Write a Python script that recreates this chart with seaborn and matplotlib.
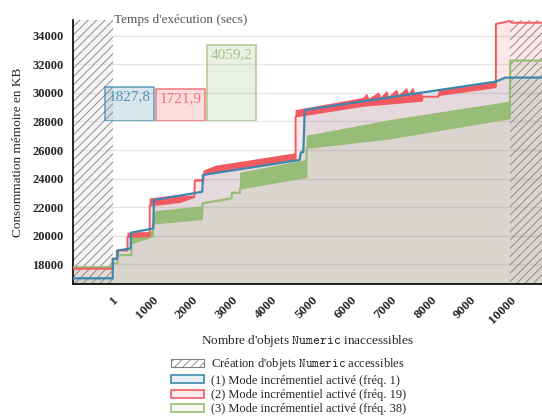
import numpy as np
import pandas as pd
import matplotlib
matplotlib.use("Agg")
import matplotlib.pyplot as plt
from matplotlib.patches import Patch
import seaborn as sns

# ---------------- data ----------------
# series (1) freq. 1 : step line
blue_x = [-1000, 0, 0, 110, 130, 450, 460, 1020, 1035, 2250, 2270, 4700, 4735, 4795, 4830, 9640, 9880, 10800]
blue_y = [17000, 17000, 18370, 18370, 18950, 19100, 20200, 20500, 22490, 23070, 24250, 25300, 25840, 25840, 28810, 30800, 31080, 31080]

# series (2) freq. 19 : noisy band (upper / lower envelopes)
red_hi_x = [-1000, 0, 0, 100, 100, 370, 370, 930, 930, 1500, 1700, 2050, 2065, 2280, 2280, 2600, 4550, 4600,
            4600, 6300, 6400, 6450, 6700, 6750, 6900, 6950, 7150, 7200, 7400, 7450, 7560, 7600, 7780,
            7800, 8190, 8200, 9620, 9640, 9640, 10000, 10050, 10800]
red_hi_y = [17670, 17670, 18370, 18370, 18950, 18950, 20200, 20250, 22600, 22800, 22800, 22800, 23950, 23950, 24550, 24900, 25750, 25800,
            28800, 29650, 29950, 29600, 30050, 29700, 30150, 29750, 30250, 29850, 30350, 29950, 30400, 30000, 30100,
            29760, 29760, 30200, 30790, 30800, 34840, 35050, 34930, 34930]
red_lo_x = [-1000, 0, 0, 100, 100, 370, 370, 930, 930, 1700, 2050, 2065, 2280, 2280, 4550, 4600,
            4600, 6300, 7780, 7800, 8190, 8200, 9620, 9640, 9640, 10000, 10050, 10800]
red_lo_y = [17670, 17670, 18370, 18370, 18950, 18950, 19900, 19950, 22100, 22350, 22700, 23850, 23850, 24300, 25350, 25400,
            28350, 29100, 29450, 29740, 29740, 29850, 30400, 30450, 34840, 35050, 34930, 34930]

# series (3) freq. 38 : noisy band
green_hi_x = [-1000, 0, 0, 120, 120, 470, 470, 1010, 1015, 2240, 2260, 2990, 3000, 3200, 3200, 4870, 4880, 6980, 9990, 10000, 10800]
green_hi_y = [17780, 17780, 18050, 18050, 18630, 18630, 19800, 20350, 21700, 22050, 22260, 22610, 23000, 23000, 24400, 25300, 27000, 28100, 29390, 32270, 32270]
green_lo_x = [-1000, 0, 0, 120, 120, 470, 470, 1010, 1015, 2240, 2260, 2990, 3000, 3200, 3200, 4870, 4880, 6980, 9990, 10000, 10800]
green_lo_y = [17780, 17780, 18050, 18050, 18630, 18630, 19450, 19950, 20850, 21150, 22260, 22610, 23000, 23000, 23300, 24100, 26150, 26820, 28230, 32270, 32270]

# execution times (inset bars)
modes = ["(1)", "(2)", "(3)"]
times = [1827.8, 1721.9, 4059.2]

x_ticks = [1, 1000, 2000, 3000, 4000, 5000, 6000, 7000, 8000, 9000, 10000]
y_ticks = [18000, 20000, 22000, 24000, 26000, 28000, 30000, 32000, 34000]

legend_labels = [r"Création d'objets $\mathtt{Numeric}$ accessibles",
                 "(1) Mode incrémentiel activé (fréq. 1)",
                 "(2) Mode incrémentiel activé (fréq. 19)",
                 "(3) Mode incrémentiel activé (fréq. 38)"]

# ---------------- style ----------------
sns.set_style("white")
plt.rcParams['font.family'] = ['Liberation Serif', 'DejaVu Serif']
plt.rcParams['mathtext.fontset'] = 'cm'
plt.rcParams['hatch.linewidth'] = 0.6

BLUE = "#3f88ad"
RED = "#f25a61"
GREEN = "#98bd78"
HATCH = "#808080"

fig = plt.figure(figsize=(5.42, 4.18), dpi=100)
ax = fig.add_axes([73/542, 1-284/418, 469/542, 264/418])

XMIN, XMAX = -1000, 10800
YMIN, YMAX = 16600, 35120

# background of creation phase
ax.axvspan(XMIN, 0, facecolor="#f6f6f6", edgecolor="none", zorder=0.2)

# fills under each series
fa = 0.14
ax.fill_between(blue_x, YMIN, blue_y, color=BLUE, alpha=fa, linewidth=0, zorder=1)
ax.fill_between(red_hi_x, YMIN, red_hi_y, color=RED, alpha=fa, linewidth=0, zorder=1)
ax.fill_between(green_hi_x, YMIN, green_hi_y, color=GREEN, alpha=fa, linewidth=0, zorder=1)

# hatched regions
ax.axvspan(XMIN, 0, facecolor="none", edgecolor=HATCH, hatch="////", linewidth=0, zorder=2)
ax.axvspan(10000, XMAX, facecolor="none", edgecolor=HATCH, hatch="////", linewidth=0, zorder=2)

# noisy bands
ax.fill(np.concatenate([green_hi_x, green_lo_x[::-1]]), np.concatenate([green_hi_y, green_lo_y[::-1]]),
        color=GREEN, linewidth=0, zorder=3)
sns.lineplot(x=green_lo_x, y=green_lo_y, estimator=None, sort=False, color=GREEN, linewidth=1.6, ax=ax, zorder=3)
ax.fill(np.concatenate([red_hi_x, red_lo_x[::-1]]), np.concatenate([red_hi_y, red_lo_y[::-1]]),
        color=RED, linewidth=0, zorder=4)
sns.lineplot(x=red_lo_x, y=red_lo_y, estimator=None, sort=False, color=RED, linewidth=1.4, ax=ax, zorder=4)
sns.lineplot(x=blue_x, y=blue_y, estimator=None, sort=False, color=BLUE, linewidth=1.6, ax=ax, zorder=5)

ax.set_xlim(XMIN, XMAX)
ax.set_ylim(YMIN, YMAX)
ax.set_xticks(x_ticks)
ax.set_xticklabels([str(t) for t in x_ticks], rotation=45, ha="right", rotation_mode="anchor",
                   fontsize=9.5, fontweight="bold")
ax.set_yticks(y_ticks)
ax.set_yticklabels([str(t) for t in y_ticks], fontsize=9, fontweight="bold")
ax.tick_params(axis="both", direction="out", length=4, width=1, color="black", pad=3)
ax.yaxis.grid(True, color="#e6e6e6", linewidth=1)
ax.set_axisbelow(True)
for s in ["top", "right"]:
    ax.spines[s].set_visible(False)
for s in ["left", "bottom"]:
    ax.spines[s].set_color("black")
    ax.spines[s].set_linewidth(1.2)
ax.set_xlabel(r"Nombre d'objets $\mathtt{Numeric}$ inaccessibles", fontsize=9.5, labelpad=5)
ax.set_ylabel("Consommation mémoire en KB", fontsize=9.5, labelpad=6)

# ---------------- inset bars ----------------
ax_in = fig.add_axes([104/542, 1-121/418, 153/542, 97/418])
ax_in.patch.set_alpha(0)
bar_cols = [BLUE, RED, GREEN]
df = pd.DataFrame({"mode": modes, "time": times})
sns.barplot(data=df, x="mode", y="time", hue="mode", palette=bar_cols, legend=False,
            width=0.96, ax=ax_in)
for p, c in zip(ax_in.patches, bar_cols):
    p.set_facecolor(matplotlib.colors.to_rgba(c, 0.2))
    p.set_edgecolor(matplotlib.colors.to_rgba(c, 0.75))
    p.set_linewidth(1.2)
ax_in.set_xlim(-0.5, 2.5)
ax_in.set_ylim(0, 5182)
for i, (t, c) in enumerate(zip(times, bar_cols)):
    ax_in.text(i, t - 170, f"{t:.1f}".replace(".", ","), ha="center", va="top",
               fontsize=11, color=matplotlib.colors.to_rgba(c, 0.85))
ax_in.set_axis_off()
ax_in.set_title("Temps d'exécution (secs)", fontsize=9.5, color="#555555", pad=1)

# ---------------- legend ----------------
handles = [Patch(facecolor="white", edgecolor=HATCH, hatch="////", linewidth=0.8),
           Patch(facecolor=matplotlib.colors.to_rgba(BLUE, 0.12), edgecolor=BLUE, linewidth=1.2),
           Patch(facecolor=matplotlib.colors.to_rgba(RED, 0.12), edgecolor=RED, linewidth=1.2),
           Patch(facecolor=matplotlib.colors.to_rgba(GREEN, 0.12), edgecolor=GREEN, linewidth=1.2)]
fig.legend(handles, legend_labels, loc="upper center", bbox_to_anchor=(289/542, 1-349/418),
           frameon=False, fontsize=9, handlelength=2.6, handleheight=0.6, labelspacing=0.18,
           handletextpad=0.6, borderpad=0.1)

fig.savefig("out.png", dpi=100)
